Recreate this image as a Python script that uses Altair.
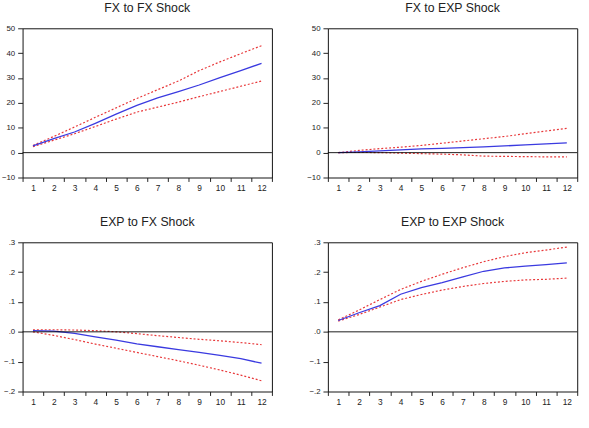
import altair as alt
import pandas as pd

# Impulse-response horizons (periods after the shock)
horizon = list(range(1, 13))

# FX response to an FX shock
fx_fx_resp = [2.7, 5.6, 8.3, 11.8, 15.5, 19.0, 22.0, 24.5, 27.2, 30.2, 33.0, 35.9]
fx_fx_hi = [2.9, 6.5, 10.3, 14.2, 18.0, 21.8, 25.3, 28.8, 33.0, 36.5, 39.8, 43.0]
fx_fx_lo = [2.4, 5.0, 7.6, 10.5, 13.5, 16.3, 18.3, 20.3, 22.5, 24.6, 26.7, 28.8]

# FX response to an EXP shock
fx_exp_resp = [0.0, 0.35, 0.7, 1.1, 1.5, 1.7, 2.0, 2.3, 2.7, 3.1, 3.5, 3.9]
fx_exp_hi = [0.0, 0.9, 1.6, 2.2, 2.9, 3.8, 4.7, 5.6, 6.5, 7.6, 8.7, 9.8]
fx_exp_lo = [0.0, 0.1, 0.0, -0.2, -0.4, -0.6, -0.9, -1.4, -1.5, -1.6, -1.7, -1.7]

# EXP response to an FX shock
exp_fx_resp = [0.004, 0.002, -0.005, -0.017, -0.028, -0.040, -0.050, -0.060, -0.069, -0.079, -0.090, -0.105]
exp_fx_hi = [0.007, 0.007, 0.006, 0.004, 0.000, -0.006, -0.013, -0.019, -0.025, -0.030, -0.036, -0.043]
exp_fx_lo = [0.000, -0.012, -0.026, -0.041, -0.055, -0.069, -0.083, -0.097, -0.112, -0.128, -0.145, -0.164]

# EXP response to an EXP shock
exp_exp_resp = [0.038, 0.064, 0.088, 0.126, 0.148, 0.165, 0.184, 0.203, 0.214, 0.220, 0.225, 0.231]
exp_exp_hi = [0.040, 0.073, 0.108, 0.142, 0.169, 0.193, 0.215, 0.235, 0.252, 0.265, 0.274, 0.284]
exp_exp_lo = [0.036, 0.058, 0.083, 0.108, 0.125, 0.140, 0.152, 0.162, 0.169, 0.174, 0.176, 0.180]

top_ticks = [-10, 0, 10, 20, 30, 40, 50]
bottom_ticks = [-0.2, -0.1, 0.0, 0.1, 0.2, 0.3]
x_ticks = [h - 0.5 for h in horizon] + [12.5]

PANEL_W = 254
PANEL_H = 152
BAND = PANEL_W / 12


def panel(title, resp, hi, lo, domain, ticks, label_expr):
    resp_df = pd.DataFrame({"h": horizon, "v": resp})
    band_df = pd.DataFrame({
        "h": horizon * 2,
        "v": hi + lo,
        "s": ["hi"] * 12 + ["lo"] * 12,
    })
    zero_df = pd.DataFrame({"v": [0.0]})
    x = alt.X(
        "h:Q",
        scale=alt.Scale(domain=[0.5, 12.5], nice=False, zero=False),
        axis=alt.Axis(
            values=x_ticks,
            labelExpr="datum.value < 12 ? format(datum.value + 0.5, 'd') : ''",
            labelOffset=BAND / 2,
            labelFlush=False,
            labelOverlap=False,
            labelFontSize=8.5,
            tickSize=4,
            labelPadding=2,
            title=None,
        ),
    )
    y = alt.Y(
        "v:Q",
        scale=alt.Scale(domain=domain, nice=False, zero=False),
        axis=alt.Axis(
            values=ticks,
            tickCount=len(ticks),
            labelExpr=label_expr,
            labelOverlap=False,
            labelFlush=False,
            labelFontSize=8,
            tickSize=5,
            labelPadding=3,
            title=None,
        ),
    )
    zero = alt.Chart(zero_df).mark_rule(color="black", strokeWidth=0.9).encode(y=y)
    bands = alt.Chart(band_df).mark_line(
        color="#e8383a", strokeWidth=1.2, strokeDash=[2, 2]
    ).encode(x=x, y=y, detail="s:N")
    line = alt.Chart(resp_df).mark_line(color="#3a3ae0", strokeWidth=1.3).encode(x=x, y=y)
    return alt.layer(bands, line, zero).properties(
        width=PANEL_W,
        height=PANEL_H,
        title=alt.TitleParams(title, fontSize=12.5, fontWeight="normal", offset=10,
                              font="Liberation Sans", color="#222"),
    )


top_expr = "format(datum.value, 'd')"
bottom_expr = "replace(format(datum.value, '.1f'), '0.', '.')"

p1 = panel("FX to FX Shock", fx_fx_resp, fx_fx_hi, fx_fx_lo, [-10, 50], top_ticks, top_expr)
p2 = panel("FX to EXP Shock", fx_exp_resp, fx_exp_hi, fx_exp_lo, [-10, 50], top_ticks, top_expr)
p3 = panel("EXP to FX Shock", exp_fx_resp, exp_fx_hi, exp_fx_lo, [-0.2, 0.3], bottom_ticks, bottom_expr)
p4 = panel("EXP to EXP Shock", exp_exp_resp, exp_exp_hi, exp_exp_lo, [-0.2, 0.3], bottom_ticks, bottom_expr)

chart = alt.concat(
    p1, p2, p3, p4, columns=2, spacing={"row": 66, "column": 57}, bounds="flush"
).properties(
    padding={"left": 0, "top": -2, "right": 0, "bottom": 0}, background="white"
).configure_view(
    stroke="#111", strokeWidth=1
).configure_axis(
    domain=False,
    grid=False,
    tickColor="#222",
    labelColor="#222",
    labelFont="Liberation Sans",
).configure_axisY(
    labelOverlap=False
)

chart.save("out.html", embed_options={"renderer": "svg", "actions": False})
